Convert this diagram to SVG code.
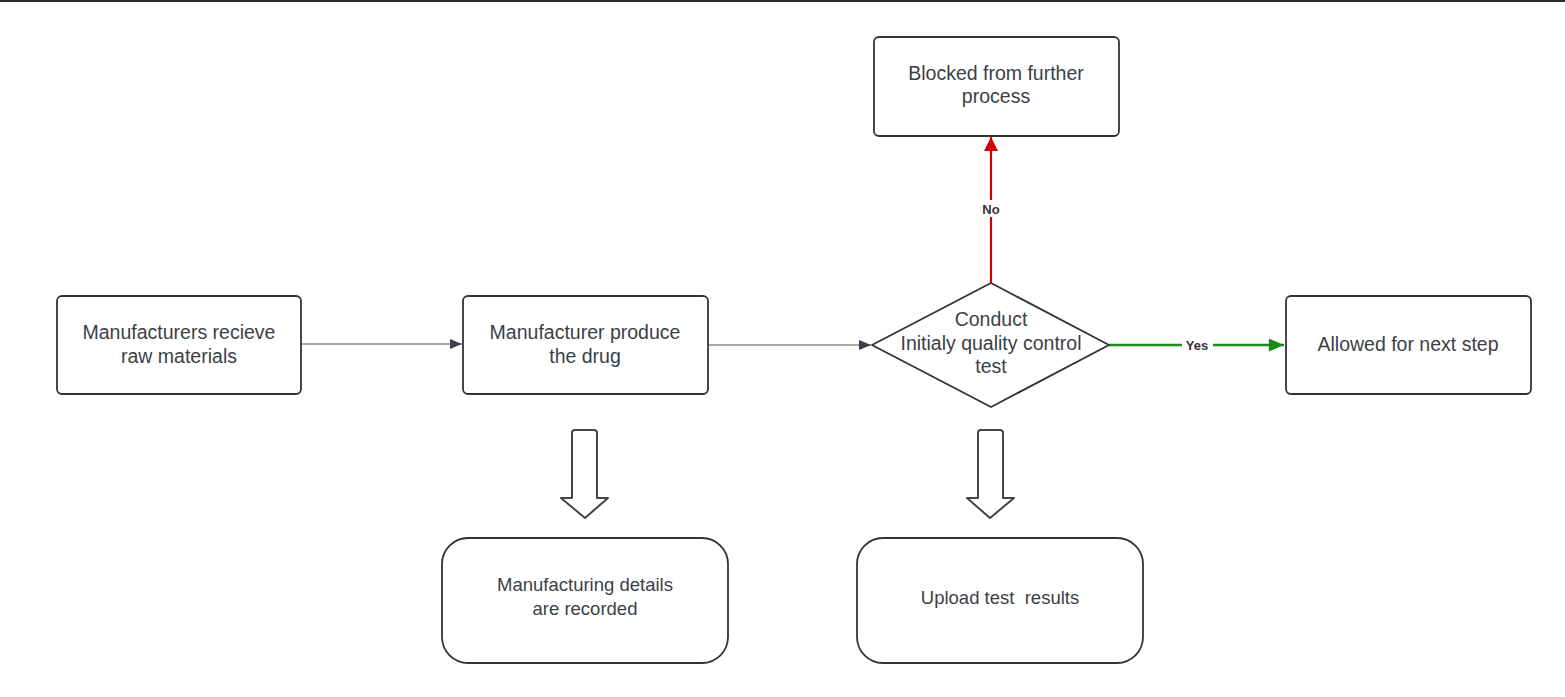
<svg xmlns="http://www.w3.org/2000/svg" width="1565" height="697" viewBox="0 0 1565 697">
<defs>
<style>
.box{fill:#fff;stroke:#333;stroke-width:1.8}
.t{font-family:"Liberation Sans",Arial,sans-serif;font-size:19.5px;fill:#3b3f47;text-anchor:middle}
.tb{font-family:"Liberation Sans",Arial,sans-serif;font-size:18.5px;fill:#3b3f47;text-anchor:middle;white-space:pre}
.lbl{font-family:"Liberation Sans",Arial,sans-serif;font-size:13px;font-weight:bold;fill:#333;text-anchor:middle}
.con{fill:none;stroke:#555;stroke-width:1.2}
.blk{fill:#fff;stroke:#444;stroke-width:2;stroke-linejoin:round}
</style>
<marker id="ah" viewBox="0 0 12 10" refX="12" refY="5" markerWidth="12" markerHeight="10" markerUnits="userSpaceOnUse" orient="auto">
<path d="M0,0 L12,5 L0,10 Z" fill="#3a3f4a"/>
</marker>
<marker id="ahr" viewBox="0 0 12 12" refX="12" refY="6" markerWidth="14" markerHeight="14" markerUnits="userSpaceOnUse" orient="auto">
<path d="M0,0 L12,6 L0,12 Z" fill="#d40000"/>
</marker>
<marker id="ahg" viewBox="0 0 14 12" refX="14" refY="6" markerWidth="16" markerHeight="13" markerUnits="userSpaceOnUse" orient="auto">
<path d="M0,0 L14,6 L0,12 Z" fill="#1a8a1a"/>
</marker>
</defs>
<rect x="0" y="0" width="1565" height="697" fill="#fff"/>
<rect x="0" y="0" width="1565" height="2" fill="#2b2b2b"/>

<g id="connectors">
<line class="con" x1="301" y1="344" x2="462" y2="344" marker-end="url(#ah)"/>
<line class="con" x1="708" y1="345" x2="871" y2="345" marker-end="url(#ah)"/>
<line x1="991" y1="283" x2="991" y2="137" stroke="#d40000" stroke-width="2.2" marker-end="url(#ahr)"/>
<rect x="977" y="200" width="28" height="17" fill="#fff"/>
<text class="lbl" x="991" y="214">No</text>
<line x1="1109" y1="345" x2="1284" y2="345" stroke="#1a8a1a" stroke-width="2.5" marker-end="url(#ahg)"/>
<rect x="1182" y="337" width="31" height="16" fill="#fff"/>
<text class="lbl" x="1197" y="350">Yes</text>
<path class="blk" d="M575,430 L594,430 Q597,430 597,433 L597,498 L608,498 L585,518 L561,498 L572,498 L572,433 Q572,430 575,430 Z"/>
<path class="blk" d="M981,430 L1000,430 Q1003,430 1003,433 L1003,498 L1014,498 L990,518 L967,498 L978,498 L978,433 Q978,430 981,430 Z"/>
</g>

<g id="n-raw">
<rect class="box" x="57" y="296" width="244" height="98" rx="5"/>
<text class="t" x="179" y="339">Manufacturers recieve</text>
<text class="t" x="179" y="363">raw materials</text>
</g>

<g id="n-produce">
<rect class="box" x="463" y="296" width="245" height="98" rx="5"/>
<text class="t" x="585" y="339">Manufacturer produce</text>
<text class="t" x="585" y="363">the drug</text>
</g>

<g id="n-test">
<path class="box" d="M991,283 L1109,345 L991,407 L872,345 Z" stroke-linejoin="round"/>
<text class="t" x="991" y="326">Conduct</text>
<text class="t" x="991" y="350">Initialy quality control</text>
<text class="t" x="991" y="373">test</text>
</g>

<g id="n-blocked">
<rect class="box" x="874" y="37" width="245" height="99" rx="5"/>
<text class="t" x="996" y="80">Blocked from further</text>
<text class="t" x="996" y="103">process</text>
</g>

<g id="n-allowed">
<rect class="box" x="1286" y="296" width="245" height="98" rx="5"/>
<text class="t" x="1408" y="351">Allowed for next step</text>
</g>

<g id="n-recorded">
<rect class="box" x="442" y="538" width="286" height="125" rx="26"/>
<text class="tb" x="585" y="591">Manufacturing details</text>
<text class="tb" x="585" y="615">are recorded</text>
</g>

<g id="n-upload">
<rect class="box" x="857" y="538" width="286" height="125" rx="26"/>
<text class="tb" x="1000" y="604" xml:space="preserve">Upload test  results</text>
</g>
</svg>
